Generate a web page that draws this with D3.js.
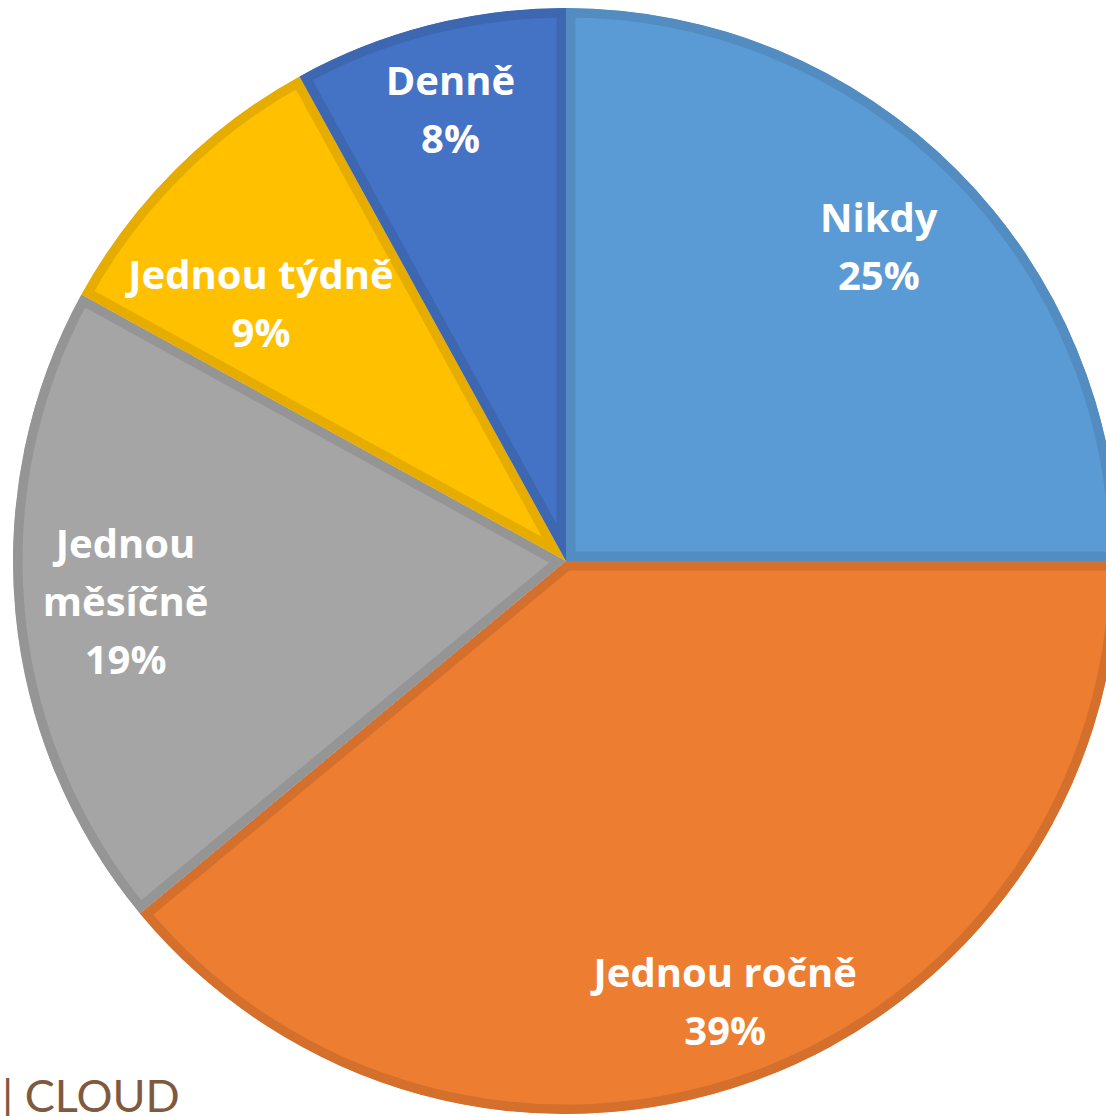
<!DOCTYPE html>
<html>
<head>
<meta charset="utf-8">
<script src="https://cdn.jsdelivr.net/npm/d3@7"></script>
<style>
  html, body { margin: 0; padding: 0; background: #fff; }
  svg { display: block; }
</style>
</head>
<body>
<svg id="pie_svg"></svg>
<script>
// data (clockwise from 12 o'clock)
const categories = ["Nikdy", "Jednou ročně", "Jednou měsíčně", "Jednou týdně", "Denně"];
const shares = [25, 39, 19, 9, 8];
const sliceColors = ["#5B9BD5", "#ED7D31", "#A5A5A5", "#FFC000", "#4472C4"];
const edgeColors = ["#528CC0", "#D5702C", "#959595", "#E6AD00", "#3D67B0"];
const footerText = "| CLOUD";

// label placement tweaks (Excel "best fit" moves a few labels)
const labelRadius = [0.80, 0.85, 0.80, 0.72, 0.84];
const labelAngleShift = [0, 0, 0, -5, 0];
const wrapLabels = ["Jednou měsíčně"];

const width = 1106, height = 1116;
const cx = 566, cy = 561, radius = 553;

const svg = d3.select("#pie_svg")
    .attr("width", width)
    .attr("height", height);

const data = categories.map((c, i) => ({ name: c, value: shares[i], i: i }));

const pie = d3.pie()
    .value(d => d.value)
    .sort(null)
    .startAngle(0)
    .endAngle(2 * Math.PI);

const arc = d3.arc().innerRadius(0).outerRadius(radius);

const color = d3.scaleOrdinal().domain(categories).range(sliceColors);
const edge = d3.scaleOrdinal().domain(categories).range(edgeColors);

const arcs = pie(data);

const defs = svg.append("defs");
defs.selectAll("clipPath")
  .data(arcs)
  .join("clipPath")
    .attr("id", d => "clip" + d.data.i)
  .append("path")
    .attr("d", arc);

const g = svg.append("g")
    .attr("transform", `translate(${cx},${cy})`);

// each slice gets an inner band in a darker tone: wide stroke clipped to the slice
g.selectAll("path.slice")
  .data(arcs)
  .join("path")
    .attr("class", "slice")
    .attr("d", arc)
    .attr("fill", d => color(d.data.name))
    .attr("stroke", d => edge(d.data.name))
    .attr("stroke-width", 19)
    .attr("stroke-linejoin", "miter")
    .attr("clip-path", d => `url(#clip${d.data.i})`);

// labels
const lineH = 58;
const labels = g.selectAll("text.lbl")
  .data(arcs)
  .join("text")
    .attr("class", "lbl")
    .attr("text-anchor", "middle")
    .attr("fill", "#fff")
    .style("font-family", "'Open Sans', sans-serif")
    .style("font-weight", "bold")
    .style("font-size", "40px")
    .attr("transform", d => {
      const i = d.data.i;
      const a = (d.startAngle + d.endAngle) / 2 + labelAngleShift[i] * Math.PI / 180;
      const r = radius * labelRadius[i];
      return `translate(${r * Math.sin(a)},${-r * Math.cos(a)})`;
    });

labels.each(function(d) {
  let lines = wrapLabels.includes(d.data.name) ? d.data.name.split(" ") : [d.data.name];
  lines = lines.concat([d.data.value + "%"]);
  const t = d3.select(this);
  const off = -(lines.length - 1) / 2 * lineH + 13;
  lines.forEach((l, k) => {
    t.append("tspan")
      .attr("x", 0)
      .attr("y", off + k * lineH)
      .text(l);
  });
});

// slide footer
svg.append("text")
    .attr("x", 2)
    .attr("y", 1112)
    .attr("fill", "#7F5A3E")
    .style("font-family", "Lato, sans-serif")
    .style("font-size", "45px")
    .text(footerText);
</script>
</body>
</html>
